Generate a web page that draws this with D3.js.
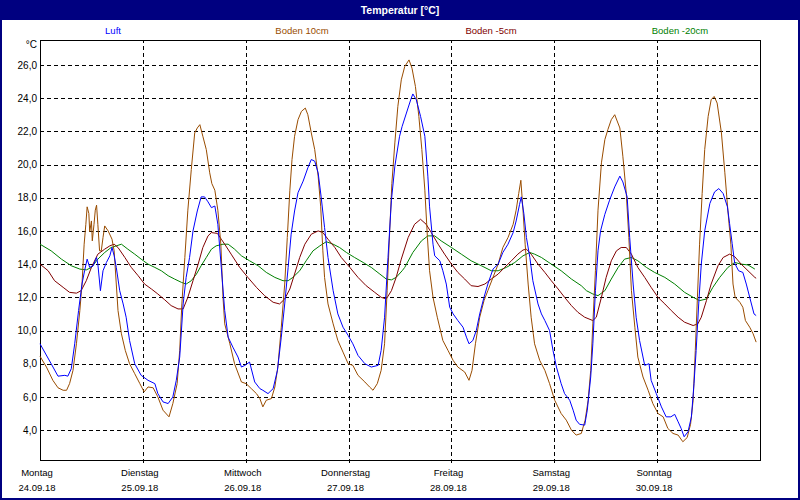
<!DOCTYPE html>
<html>
<head>
<meta charset="utf-8">
<script src="https://cdn.jsdelivr.net/npm/d3@7"></script>
<style>
  body { margin: 0; background: #fff; }
  svg { display: block; font-family: "Liberation Sans", Arial, sans-serif; }
</style>
</head>
<body>
<svg id="chart" width="800" height="500"></svg>
<script>
// legend / series names
const seriesNames = ["Luft", "Boden 10cm", "Boden -5cm", "Boden -20cm"];
const dayNames = ["Montag", "Dienstag", "Mittwoch", "Donnerstag", "Freitag", "Samstag", "Sonntag"];
const dayDates = ["24.09.18", "25.09.18", "26.09.18", "27.09.18", "28.09.18", "29.09.18", "30.09.18"];
const yTicks = [4, 6, 8, 10, 12, 14, 16, 18, 20, 22, 24, 26];

// [hours since 24.09.18 00:00, °C]
const luft = [
  [0,9.2],[2.6,8.0],[4.2,7.25],[5.8,7.3],[6.5,7.25],[7.3,7.7],[8.1,9.2],[9.0,11.2],[9.8,12.8],[10.4,13.6],
  [11.0,14.3],[11.6,13.8],[12.4,13.9],[13.2,14.4],[13.5,14.0],[14.1,12.4],[14.7,13.6],[15.5,14.1],[16.3,14.5],
  [16.8,15.0],[17.3,14.5],[17.8,13.8],[18.6,12.4],[19.4,11.6],[20.1,10.8],[20.9,9.4],[22.1,8.0],[23.6,7.3],
  [25.2,7.0],[26.8,6.8],[27.5,6.2],[28.7,5.7],[29.9,5.6],[31.0,6.0],[31.8,7.0],[32.6,8.4],[33.4,11.6],[34.1,13.2],
  [34.9,14.4],[35.7,16.0],[36.7,17.2],[37.6,18.05],[38.4,18.05],[39.2,17.75],[40.0,17.4],[40.8,17.5],[41.5,16.4],
  [42.3,13.8],[43.1,11.2],[43.9,9.6],[45.0,9.0],[46.2,8.4],[47.0,7.8],[47.8,7.9],[48.9,8.1],[50.1,6.9],[51.3,6.5],
  [52.0,6.4],[53.2,6.2],[54.4,6.5],[55.4,7.6],[56.3,9.6],[57.1,11.6],[57.9,13.8],[58.6,15.8],[59.4,17.2],[60.2,18.3],
  [61.4,19.0],[62.5,19.8],[63.3,20.3],[64.1,20.2],[64.9,19.5],[65.6,18.05],[66.4,16.2],[67.2,14.4],[68.4,12.4],
  [69.5,11.0],[70.7,10.2],[71.9,9.7],[73.0,9.2],[74.2,8.5],[75.8,8.0],[77.3,7.8],[78.9,7.9],[79.6,8.8],[80.4,10.8],
  [81.2,14.4],[82.0,17.85],[82.8,19.9],[83.9,21.7],[84.5,22.3],[85.5,23.1],[86.5,23.9],[87.0,24.25],[87.8,23.9],
  [88.8,22.9],[89.8,21.7],[90.5,19.3],[90.9,17.45],[91.7,15.2],[92.1,14.5],[93.3,14.2],[94.0,13.6],[94.8,12.8],
  [95.6,11.4],[96.4,11.0],[97.5,10.6],[98.7,10.2],[99.5,9.6],[100.1,9.2],[101.0,9.4],[101.8,10.0],[102.6,11.0],
  [103.6,12.0],[104.5,12.8],[105.7,13.7],[106.9,14.0],[108.0,14.7],[109.2,15.2],[110.4,15.9],[111.1,16.6],
  [111.9,17.6],[112.3,18.05],[112.9,17.05],[113.5,15.6],[114.3,14.4],[115.0,13.0],[116.2,11.6],[117.0,11.0],
  [117.8,10.6],[118.9,10.0],[119.7,8.8],[120.5,7.8],[121.6,6.8],[122.4,6.2],[123.6,5.8],[124.4,5.2],[125.1,4.6],
  [125.9,4.35],[127.1,4.3],[127.7,5.2],[128.5,7.2],[129.0,9.2],[129.6,12.4],[130.2,14.8],[130.8,16.0],[131.8,17.0],
  [132.9,17.85],[134.1,18.65],[135.3,19.3],[136.0,18.95],[137.0,18.05],[137.6,15.6],[138.4,12.8],[139.1,10.8],
  [139.9,9.4],[141.1,7.9],[142.1,8.0],[142.6,7.0],[143.8,6.2],[145.0,5.4],[146.1,4.8],[147.2,4.8],[148.1,4.95],
  [148.9,4.5],[149.6,4.1],[150.3,3.6],[151.2,3.9],[152.0,4.8],[152.6,6.8],[153.1,8.8],[153.7,11.6],[154.3,14.0],
  [155.1,16.0],[156.3,17.65],[157.4,18.35],[158.4,18.55],[159.4,18.25],[160.4,17.45],[160.9,16.45],[161.5,15.25],
  [162.1,14.05],[163.0,13.6],[164.0,13.5],[164.8,12.8],[165.6,12.0],[166.6,11.0],[167.1,10.9]
];

const boden10 = [
  [0,8.45],[1.5,7.8],[3.0,7.0],[4.2,6.55],[5.4,6.4],[6.2,6.4],[6.9,6.8],[7.7,7.6],[8.5,9.2],[9.3,11.2],[9.8,12.8],
  [10.3,15.2],[10.7,16.4],[11.0,17.45],[11.4,17.05],[11.6,15.95],[12.0,16.6],[12.2,15.4],[12.6,16.4],[12.9,17.25],
  [13.2,17.55],[13.5,16.4],[13.9,14.8],[14.3,14.8],[14.7,15.6],[15.1,16.3],[15.9,16.0],[16.8,15.5],[17.3,14.8],
  [17.8,12.8],[18.2,11.2],[19.0,9.8],[19.9,8.8],[20.9,8.0],[22.1,7.4],[23.3,6.8],[24.3,6.3],[25.2,6.6],[26.4,6.55],
  [27.5,6.0],[28.7,5.2],[30.1,4.8],[31.0,5.6],[32.0,6.8],[32.6,8.8],[33.1,11.6],[33.8,14.4],[34.5,17.25],[35.3,19.7],
  [36.1,21.9],[36.7,22.2],[37.3,22.4],[38.0,21.7],[38.8,20.9],[39.6,19.5],[40.1,18.85],[40.8,18.45],[41.5,17.25],
  [42.2,15.2],[42.7,12.0],[43.1,10.4],[44.3,9.2],[45.4,8.0],[47.0,6.9],[48.1,6.8],[49.3,6.5],[50.5,6.2],[51.3,5.9],
  [52.0,5.4],[52.8,5.8],[54.0,5.9],[54.8,6.6],[55.5,7.8],[56.3,10.2],[57.1,12.8],[57.7,15.6],[58.3,18.45],[58.8,20.3],
  [59.4,21.7],[60.2,22.7],[61.0,23.2],[61.9,23.4],[62.5,23.0],[63.3,21.9],[64.1,20.9],[64.9,19.3],[65.5,17.45],
  [66.0,14.8],[66.4,13.2],[67.2,11.6],[68.4,10.4],[69.5,9.4],[70.7,8.7],[71.9,8.0],[73.0,7.9],[74.2,7.3],[75.8,6.9],
  [76.9,6.6],[77.7,6.4],[78.7,6.8],[79.6,7.6],[80.4,9.2],[81.0,12.4],[81.6,16.0],[82.1,18.85],[82.8,21.3],[83.5,23.5],
  [84.3,25.1],[85.1,25.9],[86.1,26.3],[86.8,25.8],[87.6,24.7],[88.4,22.9],[89.1,20.9],[89.8,18.45],[90.4,15.6],
  [90.9,13.6],[91.7,12.0],[92.7,10.8],[94.0,9.4],[95.2,8.8],[96.4,8.2],[97.5,7.8],[99.1,7.5],[100.1,7.0],[100.8,7.6],
  [101.6,9.2],[102.6,10.8],[103.6,11.8],[104.5,12.4],[105.7,13.2],[106.9,14.0],[108.0,15.0],[109.2,15.6],[110.4,16.4],
  [111.1,17.25],[111.7,18.25],[112.2,19.05],[112.7,17.25],[113.2,15.2],[113.9,12.8],[114.6,10.8],[115.4,9.2],
  [116.6,8.2],[117.8,7.6],[118.9,6.8],[120.1,5.8],[121.6,5.0],[122.8,4.6],[124.0,4.0],[125.1,3.7],[126.3,3.8],
  [127.2,4.6],[127.9,5.8],[128.5,7.6],[129.0,10.4],[129.6,13.6],[130.2,17.25],[131.0,20.1],[131.8,21.5],[132.5,22.1],
  [133.3,22.7],[134.1,23.0],[135.3,22.2],[136.0,20.5],[136.8,18.25],[137.4,15.6],[138.0,12.4],[138.8,10.2],[139.5,8.4],
  [140.7,7.2],[141.9,6.4],[143.0,5.6],[144.2,5.0],[145.4,4.8],[146.5,4.1],[147.7,3.8],[148.9,3.7],[150.0,3.3],
  [151.0,3.55],[151.8,4.35],[152.4,5.8],[152.9,8.8],[153.4,12.0],[153.9,15.2],[154.5,18.25],[155.1,20.9],[155.9,22.9],
  [156.6,23.9],[157.3,24.1],[158.0,23.7],[159.0,21.9],[159.8,19.5],[160.5,17.25],[161.2,15.2],[161.7,12.8],
  [162.2,12.0],[163.3,11.7],[164.0,11.4],[164.6,10.6],[165.6,10.2],[166.4,9.8],[167.1,9.3]
];

const bodenMinus5 = [
  [0,14.0],[1.9,13.6],[3.4,13.0],[5.4,12.6],[6.9,12.3],[8.5,12.25],[9.6,12.4],[10.8,13.0],[12.0,13.8],[13.5,14.6],
  [15.1,14.9],[16.3,15.1],[17.3,15.2],[18.2,15.0],[19.8,14.4],[21.3,13.8],[22.9,13.3],[24.4,12.8],[26.0,12.5],
  [27.5,12.2],[29.1,11.85],[30.6,11.5],[32.2,11.3],[33.4,11.3],[34.5,12.0],[35.7,13.0],[36.9,14.0],[38.0,15.0],
  [39.2,15.7],[40.0,15.9],[41.4,15.85],[42.3,15.5],[43.1,15.2],[44.6,14.6],[46.6,13.8],[48.5,13.2],[50.5,12.6],
  [52.4,12.1],[54.4,11.7],[55.9,11.6],[57.1,11.9],[58.3,12.5],[59.4,13.4],[60.6,14.4],[61.8,15.2],[63.3,15.8],
  [64.9,16.0],[66.0,15.9],[67.2,15.5],[68.8,15.0],[70.3,14.4],[72.3,13.8],[74.2,13.2],[76.1,12.7],[78.1,12.3],
  [79.6,12.0],[80.8,11.9],[82.0,12.4],[83.1,13.2],[84.3,14.3],[85.9,15.6],[87.4,16.4],[88.8,16.7],[90.1,16.4],
  [91.3,15.9],[92.9,15.2],[94.4,14.6],[96.0,14.0],[97.5,13.5],[99.1,13.1],[100.6,12.7],[102.2,12.65],[103.8,12.8],
  [105.3,13.1],[106.9,13.4],[108.4,13.8],[110.0,14.2],[111.5,14.6],[112.7,14.85],[113.5,14.9],[114.6,14.6],
  [116.2,14.0],[117.8,13.5],[119.3,13.0],[120.9,12.5],[122.4,12.0],[124.0,11.5],[125.5,11.1],[127.1,10.8],
  [129.0,10.6],[129.8,10.8],[131.0,12.0],[132.1,13.2],[133.3,14.2],[134.5,14.8],[135.6,15.0],[136.8,15.0],
  [138.0,14.6],[139.5,13.8],[141.1,13.2],[142.6,12.6],[144.2,12.0],[145.8,11.6],[147.3,11.2],[148.9,10.8],
  [150.4,10.5],[152.4,10.3],[153.5,10.4],[154.3,10.8],[155.5,11.8],[156.6,12.8],[158.2,13.9],[159.4,14.4],
  [160.9,14.6],[162.1,14.45],[163.6,14.0],[165.2,13.6],[166.8,13.2],[167.1,13.15]
];

const bodenMinus20 = [
  [0,15.2],[2.6,14.8],[5.0,14.3],[7.3,13.9],[9.3,13.7],[10.8,13.65],[12.0,13.8],[13.5,14.3],[15.1,14.7],[16.6,15.0],
  [17.8,15.1],[19.0,15.2],[20.5,14.9],[22.1,14.6],[23.6,14.3],[25.2,14.0],[26.8,13.8],[28.3,13.6],[29.9,13.3],
  [31.4,13.1],[33.0,12.9],[34.1,12.8],[35.3,13.0],[36.5,13.4],[37.6,13.9],[38.8,14.4],[40.0,14.9],[41.1,15.1],
  [42.7,15.2],[43.9,15.2],[45.4,14.9],[47.0,14.5],[48.9,14.2],[50.9,13.9],[52.8,13.5],[54.8,13.2],[56.7,13.0],
  [57.9,13.0],[59.0,13.2],[60.6,13.6],[62.1,14.2],[63.7,14.8],[65.3,15.1],[66.8,15.35],[68.4,15.2],[69.9,15.0],
  [71.5,14.7],[73.4,14.4],[75.4,14.1],[77.3,13.8],[79.3,13.4],[80.8,13.1],[82.0,13.05],[83.1,13.2],[84.5,13.6],
  [85.1,13.8],[87.0,14.7],[89.0,15.4],[90.5,15.7],[92.1,15.7],[93.6,15.4],[96.0,15.0],[98.3,14.6],[100.6,14.2],
  [103.0,13.9],[105.3,13.6],[106.9,13.6],[108.8,13.8],[110.8,14.1],[112.7,14.5],[114.3,14.7],[115.4,14.6],
  [117.0,14.4],[119.3,14.0],[121.6,13.6],[124.0,13.1],[126.3,12.7],[127.5,12.4],[129.0,12.2],[130.2,12.1],
  [131.8,12.4],[133.3,13.1],[134.9,13.8],[136.4,14.3],[138.0,14.4],[139.5,14.2],[141.5,13.8],[143.4,13.5],
  [145.8,13.2],[148.1,12.8],[150.4,12.3],[152.4,12.0],[153.9,11.8],[155.5,11.9],[157.0,12.6],[158.6,13.2],
  [160.5,13.8],[162.1,14.1],[163.6,14.0],[165.2,13.95],[166.8,13.7]
];

const WIDTH = 800;
const HEIGHT = 500;
const LEFT = 40;
const RIGHT = 760;
const TOP = 40;
const BOTTOM = 460;
const NAVY = "#000080";
const COLORS = ["#0000ff", "#994c00", "#800000", "#008000"];

const svg = d3.select("#chart");

// window frame + title bar
svg.append("rect").attr("width", WIDTH).attr("height", HEIGHT).attr("fill", NAVY);
svg.append("rect").attr("x", 2).attr("y", 20).attr("width", WIDTH - 4).attr("height", HEIGHT - 22).attr("fill", "#fff");
svg.append("text")
  .attr("x", WIDTH / 2).attr("y", 14)
  .attr("text-anchor", "middle")
  .attr("fill", "#fff")
  .style("font-size", "10.5px")
  .style("font-weight", "bold")
  .text("Temperatur [°C]");

const xScale = d3.scaleLinear().domain([0, 168]).range([LEFT, RIGHT]);
const yScale = d3.scaleLinear().domain([2.2, 27.5]).range([BOTTOM, TOP]);

const de = d3.formatLocale({ decimal: ",", thousands: ".", grouping: [3], currency: ["", " €"] });

// y grid + labels
const yAxis = svg.append("g")
  .attr("transform", `translate(${LEFT}, 0)`)
  .call(d3.axisLeft(yScale).tickValues(yTicks).tickFormat(de.format(".1f")).tickSize(-(RIGHT - LEFT)).tickPadding(3));
yAxis.select(".domain").remove();
yAxis.selectAll("line").attr("stroke", "#000").attr("stroke-dasharray", "4,3").attr("shape-rendering", "crispEdges");
yAxis.selectAll("text").attr("fill", "#000").style("font-size", "10px").style("font-family", "Liberation Sans, Arial, sans-serif");

// x grid (days)
const dayHours = dayNames.map((d, i) => i * 24);
const xAxis = svg.append("g")
  .attr("transform", `translate(0, ${BOTTOM + 3})`)
  .call(d3.axisBottom(xScale).tickValues(dayHours.slice(1)).tickFormat("").tickSize(-(BOTTOM + 3 - TOP)));
xAxis.select(".domain").remove();
xAxis.selectAll("line").attr("stroke", "#000").attr("stroke-dasharray", "4,3").attr("shape-rendering", "crispEdges");

svg.selectAll(".dayName")
  .data(dayNames)
  .enter()
  .append("text")
  .attr("x", (d, i) => xScale(dayHours[i]) - 3)
  .attr("y", 476)
  .attr("text-anchor", "middle")
  .style("font-size", "9.5px")
  .text((d) => d);

svg.selectAll(".dayDate")
  .data(dayDates)
  .enter()
  .append("text")
  .attr("x", (d, i) => xScale(dayHours[i]) - 3)
  .attr("y", 491)
  .attr("text-anchor", "middle")
  .style("font-size", "9.5px")
  .text((d) => d);

svg.append("text")
  .attr("x", 37).attr("y", 48)
  .attr("text-anchor", "end")
  .style("font-size", "10px")
  .text("°C");

// plot frame
svg.append("rect")
  .attr("x", LEFT).attr("y", TOP)
  .attr("width", RIGHT - LEFT).attr("height", BOTTOM - TOP)
  .attr("fill", "none").attr("stroke", "#000")
  .attr("shape-rendering", "crispEdges");

// series lines, drawn back to front
const line = d3.line()
  .x((d) => xScale(d[0]))
  .y((d) => yScale(d[1]));

const allSeries = [luft, boden10, bodenMinus5, bodenMinus20];
[3, 2, 1, 0].forEach((i) =>
  svg.append("path")
    .datum(allSeries[i])
    .attr("fill", "none")
    .attr("stroke", COLORS[i])
    .attr("stroke-width", 1)
    .attr("d", line)
);

// legend on top
svg.selectAll(".legend")
  .data(seriesNames)
  .enter()
  .append("text")
  .attr("x", (d, i) => 113 + i * 189)
  .attr("y", 34)
  .attr("text-anchor", "middle")
  .attr("fill", (d, i) => COLORS[i])
  .style("font-size", "9.5px")
  .text((d) => d);
</script>
</body>
</html>
